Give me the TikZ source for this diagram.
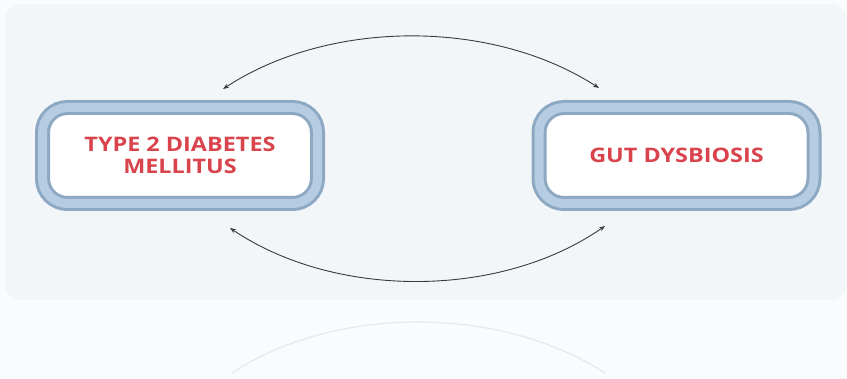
\documentclass[tikz,border=0pt]{standalone}
\usepackage{fontspec}
\setmainfont{Open Sans}
\newfontfamily\labfont[FakeStretch=1.17]{Open Sans}
\usetikzlibrary{arrows.meta}
\definecolor{pagebg}{HTML}{FAFBFC}
\definecolor{panelbg}{HTML}{F3F6F8}
\definecolor{ringdark}{HTML}{8DA8C3}
\definecolor{ringlight}{HTML}{B5CCE3}
\definecolor{labelred}{HTML}{D9434B}
\definecolor{arrowcol}{HTML}{3A3A3A}
\definecolor{reflcol}{HTML}{E6E9EC}
\tikzset{
  ringbox/.style={draw=ringdark, line width=15pt, fill=white, rounded corners=25pt,
    minimum width=275pt, minimum height=96pt, inner sep=0pt,
    postaction={draw=ringlight, line width=9pt, rounded corners=25pt},
    font=\labfont\bfseries\fontsize{20}{21.5}\selectfont, text=labelred, align=center},
  cyc/.style={draw=arrowcol, line width=0.9pt, {Stealth[length=6pt,width=4.5pt]}-{Stealth[length=6pt,width=4.5pt]}},
  refl/.style={draw=reflcol, line width=1.2pt}
}
\begin{document}
\begin{tikzpicture}[x=1pt,y=1pt]
\useasboundingbox (0,0) rectangle (847,-379);
\fill[pagebg] (0,0) rectangle (847,-379);
\fill[panelbg, rounded corners=16pt] (5,-4) rectangle (847,-300);
\node[ringbox] (t2d) at (180,-155.5) {TYPE 2 DIABETES\\MELLITUS};
\node[ringbox] (gut) at (676.5,-155.5) {GUT DYSBIOSIS};
\coordinate (tl) at (223,-89);
\coordinate (tr) at (599,-88);
\coordinate (bl) at (230,-228);
\coordinate (br) at (605,-226);
\coordinate (rl) at (232,-373);
\coordinate (rr) at (605,-373);
\draw[cyc] (tl) .. controls (330,-19) and (492,-19) .. (tr);
\draw[cyc] (bl) .. controls (335,-299) and (500,-299) .. (br);
\draw[refl] (rl) .. controls (335,-305) and (500,-305) .. (rr);
\end{tikzpicture}
\end{document}
